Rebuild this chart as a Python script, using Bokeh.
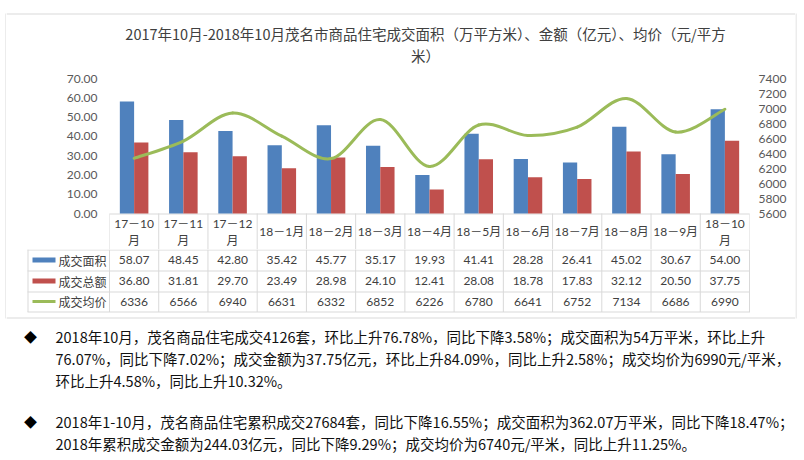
from bokeh.plotting import figure
from bokeh.layouts import column, row
from bokeh.models import (ColumnDataSource, FactorRange, Range1d, LinearAxis, FixedTicker,
                          NumeralTickFormatter)
from bokeh.transform import dodge
from bokeh.core.properties import value
from bokeh.embed import file_html
from bokeh.resources import INLINE

# ---------------- data ----------------
months = ["17－10月", "17－11月", "17－12月", "18－1月", "18－2月", "18－3月", "18－4月",
          "18－5月", "18－6月", "18－7月", "18－8月", "18－9月", "18－10月"]
area = [58.07, 48.45, 42.80, 35.42, 45.77, 35.17, 19.93, 41.41, 28.28, 26.41, 45.02, 30.67, 54.00]
amount = [36.80, 31.81, 29.70, 23.49, 28.98, 24.10, 12.41, 28.08, 18.78, 17.83, 32.12, 20.50, 37.75]
price = [6336, 6566, 6940, 6631, 6332, 6852, 6226, 6780, 6641, 6752, 7134, 6686, 6990]
left_ticks = [0, 10, 20, 30, 40, 50, 60, 70]
right_ticks = [5600, 5800, 6000, 6200, 6400, 6600, 6800, 7000, 7200, 7400]
series_names = ["成交面积", "成交总额", "成交均价"]
series_colors = ["#4F81BD", "#C0504D", "#9BBB59"]
title_lines = ["2017年10月-2018年10月茂名市商品住宅成交面积（万平方米）、金额（亿元）、均价（元/平方",
               "米）"]
para1 = ["2018年10月，茂名商品住宅成交4126套，环比上升76.78%，同比下降3.58%；成交面积为54万平米，环比上升",
         "76.07%，同比下降7.02%；成交金额为37.75亿元，环比上升84.09%，同比上升2.58%；成交均价为6990元/平米，",
         "环比上升4.58%，同比上升10.32%。"]
para2 = ["2018年1-10月，茂名商品住宅累积成交27684套，同比下降16.55%；成交面积为362.07万平米，同比下降18.47%；",
         "2018年累积成交金额为244.03亿元，同比下降9.29%；成交均价为6740元/平米，同比上升11.25%。"]

# ---------------- layout constants (page px) ----------------
OX = 6                       # width of the left edge strip
BOX_R = 795                  # right edge of the chart box
W = BOX_R - OX               # width of the central column
H = 456
FL, FR = 109, 749            # plotting area left/right
TOP_H = 72                   # title band bottom
PT, P0 = 78, 213             # y of value 70 and value 0
HDR_B = 249                  # bottom of the table header row
BOX_T, BOX_B = 13, 317
GRID = "#d9d9d9"
TXT = "#404040"
CJK = "Noto Sans CJK SC"
NUM = "Lato, Noto Sans CJK SC"
NCOL = len(months)
col_w = (FR - FL) / NCOL


def blank(x0, w, y0, y1):
    f = figure(width=w, height=y1 - y0, x_range=Range1d(x0, x0 + w), y_range=Range1d(y1, y0),
               x_axis_location=None, y_axis_location=None, output_backend="svg",
               toolbar_location=None, min_border=0)
    f.outline_line_color = None
    f.grid.grid_line_color = None
    f.frame_align = False
    return f


# ---------------- title band ----------------
pt = blank(OX, W, 0, TOP_H)
pt.segment(x0=[OX], y0=[BOX_T + 0.5], x1=[BOX_R], y1=[BOX_T + 0.5], line_color=GRID, line_width=1)
pt.text(x=[425, 425], y=[33, 55], text=title_lines, text_align="center", text_baseline="middle",
        text_font=value(CJK), text_font_size=value("14.5px"), text_color=TXT)

# ---------------- chart band (plot + table header row) ----------------
lo, hi = left_ticks[0], left_ticks[-1]
plo, phi = right_ticks[0], right_ticks[-1]
ext = (HDR_B - P0) / (P0 - PT)
src = ColumnDataSource(dict(month=months, area=area, amount=amount, price=price))
p = figure(width=W, height=HDR_B - TOP_H, x_range=FactorRange(*months, range_padding=0),
           y_range=Range1d(lo - (hi - lo) * ext, hi),
           x_axis_location=None, output_backend="svg", toolbar_location=None,
           min_border_left=FL - OX, min_border_right=BOX_R - FR, min_border_top=PT - TOP_H,
           min_border_bottom=0)
p.outline_line_color = None
p.grid.grid_line_color = None
p.frame_align = False
p.extra_y_ranges = {"price": Range1d(plo - (phi - plo) * ext, phi),
                    "px": Range1d(HDR_B, PT)}

ax = p.yaxis[0]
ax.ticker = FixedTicker(ticks=left_ticks)
ax.formatter = NumeralTickFormatter(format="0.00")
rax = LinearAxis(y_range_name="price", ticker=FixedTicker(ticks=right_ticks))
p.add_layout(rax, "right")
for a, so in ((ax, 12), (rax, 9)):
    a.axis_line_color = None
    a.major_tick_line_color = None
    a.minor_tick_line_color = None
    a.major_tick_out = 0
    a.major_tick_in = 0
    a.major_label_text_color = "#595959"
    a.major_label_text_font = "Lato"
    a.major_label_text_font_size = "12px"
    a.major_label_standoff = so

# header row of the data table
bnd = list(range(NCOL + 1))
p.segment(x0=bnd, y0=[P0] * len(bnd), x1=bnd, y1=[HDR_B] * len(bnd),
          line_color=GRID, line_width=1, y_range_name="px")
p.segment(x0=[0], y0=[P0 + 0.5], x1=[NCOL], y1=[P0 + 0.5], line_color=GRID, line_width=1,
          y_range_name="px")
top_txt, top_y, bot_txt, bot_y = [], [], [], []
for m in months:
    if len(m) > 5:
        top_txt.append(m[:-1]); top_y.append(223)
        bot_txt.append("月"); bot_y.append(240)
    else:
        top_txt.append(m); top_y.append(231)
        bot_txt.append(""); bot_y.append(240)
hsrc = ColumnDataSource(dict(month=months, t=top_txt, ty=top_y, b=bot_txt, by=bot_y))
hfont = dict(text_align="center", text_baseline="middle", text_font=value(NUM),
             text_font_size=value("12px"), text_color=TXT, y_range_name="px", source=hsrc)
p.text(x="month", y="ty", text="t", **hfont)
p.text(x="month", y="by", text="b", **hfont)

p.vbar(x=dodge("month", -0.145, range=p.x_range), top="area", bottom=lo, width=0.29, source=src,
       fill_color=series_colors[0], line_color=None)
p.vbar(x=dodge("month", 0.145, range=p.x_range), top="amount", bottom=lo, width=0.29, source=src,
       fill_color=series_colors[1], line_color=None)

# smoothed price line (cubic Bezier through the data points)
n = len(price)
xs = [i + 0.5 for i in range(n)]
bx0, by0, bx1, by1, cx0, cy0, cx1, cy1 = ([] for _ in range(8))
for i in range(n - 1):
    a_ = max(i - 1, 0)
    d_ = min(i + 2, n - 1)
    bx0.append(xs[i]); by0.append(price[i])
    bx1.append(xs[i + 1]); by1.append(price[i + 1])
    cx0.append(xs[i] + (xs[i + 1] - xs[a_]) / 6); cy0.append(price[i] + (price[i + 1] - price[a_]) / 6)
    cx1.append(xs[i + 1] - (xs[d_] - xs[i]) / 6); cy1.append(price[i + 1] - (price[d_] - price[i]) / 6)
p.bezier(x0=bx0, y0=by0, x1=bx1, y1=by1, cx0=cx0, cy0=cy0, cx1=cx1, cy1=cy1,
         y_range_name="price", line_color=series_colors[2], line_width=3, line_cap="round")

# ---------------- table rows + text band ----------------
pb = blank(OX, W, HDR_B, H)
pb.extra_x_ranges = {"cols": Range1d((OX - FL) / col_w, (OX + W - FL) / col_w)}
row_y = [249, 270, 291, 311]
vx = [FL + k * col_w for k in range(NCOL + 1)]
pb.segment(x0=vx, y0=[HDR_B] * len(vx), x1=vx, y1=[row_y[-1] + 0.5] * len(vx),
           line_color=GRID, line_width=1)
pb.segment(x0=[27.5], y0=[row_y[0]], x1=[27.5], y1=[row_y[-1] + 0.5], line_color=GRID, line_width=1)
pb.segment(x0=[27] * 4, y0=[y + 0.5 for y in row_y], x1=[FR + 0.5] * 4, y1=[y + 0.5 for y in row_y],
           line_color=GRID, line_width=1)
pb.segment(x0=[OX], y0=[BOX_B + 0.5], x1=[BOX_R], y1=[BOX_B + 0.5], line_color=GRID, line_width=1)

cx = [i + 0.5 for i in range(NCOL)]
tfont = dict(text_align="center", text_baseline="middle", text_font=value(NUM),
             text_font_size=value("12px"), text_color=TXT, x_range_name="cols")
row_c = [259.5, 280.5, 301]
rows = [[f"{v:.2f}" for v in area], [f"{v:.2f}" for v in amount], [str(v) for v in price]]
for j in range(3):
    pb.text(x=cx, y=[row_c[j]] * NCOL, text=rows[j], **tfont)
    hh = 1.5 if j == 2 else 2.5
    pb.quad(left=[32], right=[55], top=[row_c[j] - hh], bottom=[row_c[j] + hh],
            fill_color=series_colors[j], line_color=None)
pb.text(x=[58] * 3, y=row_c, text=series_names, text_align="left", text_baseline="middle",
        text_font=value(CJK), text_font_size=value("12px"), text_color=TXT)

# paragraphs
ys1 = [336, 358, 380]
ys2 = [421, 443]
pb.text(x=[30, 30], y=[ys1[0], ys2[0]], text=["◆", "◆"], text_align="center",
        text_baseline="middle", text_font=value(CJK), text_font_size=value("13px"),
        text_color="#000000")
pb.text(x=[55] * 5, y=ys1 + ys2, text=para1 + para2, text_align="left", text_baseline="middle",
        text_font=value(CJK), text_font_size=value("14.5px"), text_color="#111111")

# ---------------- left and right edges of the chart box ----------------
pl = blank(0, OX, 0, H)
pl.segment(x0=[5.5], y0=[BOX_T], x1=[5.5], y1=[BOX_B + 1], line_color=GRID, line_width=1)
pe = blank(BOX_R, 2, 0, H)
pe.segment(x0=[BOX_R + 0.5], y0=[BOX_T], x1=[BOX_R + 0.5], y1=[BOX_B + 1], line_color=GRID, line_width=1)

layout = row(pl, column(pt, p, pb, spacing=0), pe, spacing=0)
open("out.html", "w").write(file_html(layout, INLINE))
